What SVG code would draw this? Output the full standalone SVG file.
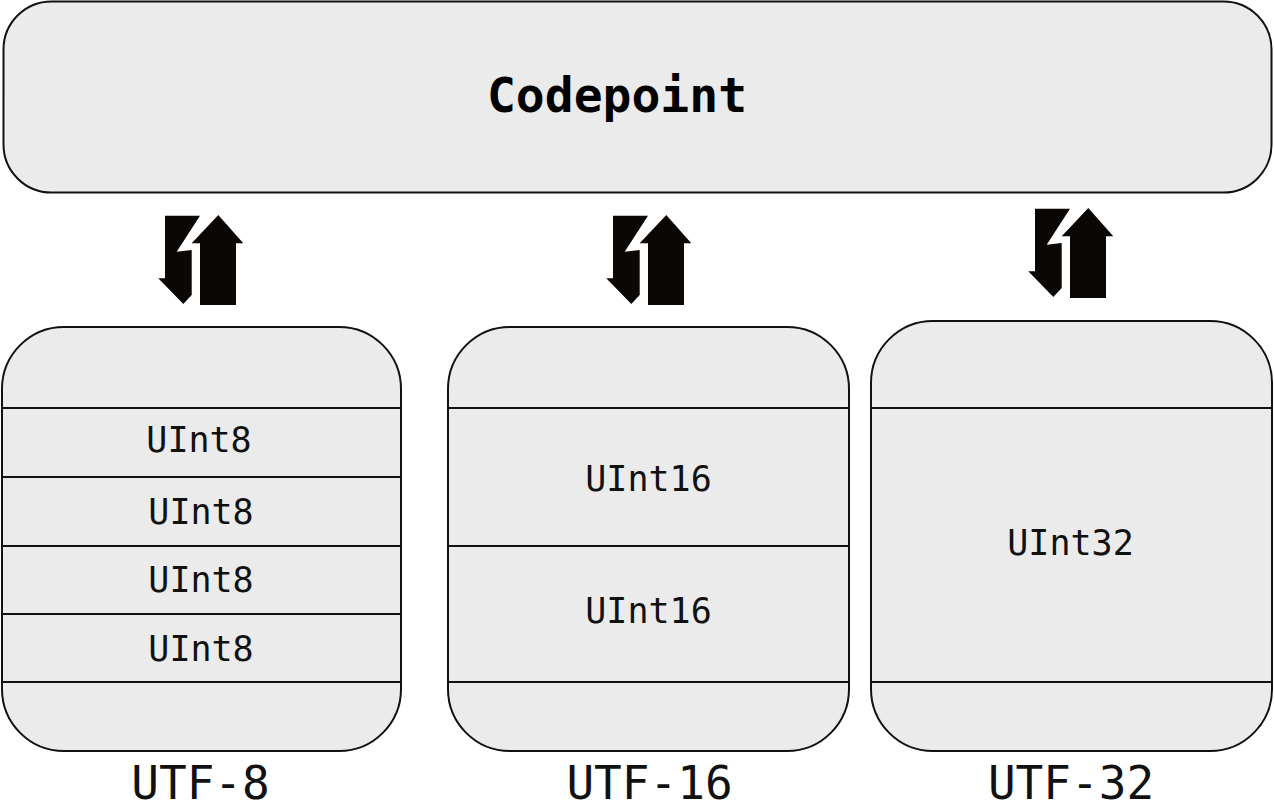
<svg xmlns="http://www.w3.org/2000/svg" xmlns:xlink="http://www.w3.org/1999/xlink" width="1274" height="810" viewBox="0 0 1274 810">
<style>
.box{fill:#ebebeb;stroke:#111;stroke-width:2}
.sep{stroke:#111;stroke-width:2}
.title{font-family:"DejaVu Sans Mono","Liberation Mono",monospace;font-weight:bold;font-size:48px;fill:#000;text-anchor:middle}
.cell{font-family:"DejaVu Sans Mono","Liberation Mono",monospace;font-size:35px;fill:#111;text-anchor:middle}
.label{font-family:"DejaVu Sans Mono","Liberation Mono",monospace;font-size:46px;fill:#111;text-anchor:middle}
.arr{fill:#0a0705}
</style>
<defs>
<g id="swap">
<polygon class="arr" points="165,215.7 200,215.7 176.7,251.7 191.7,250 191.7,295 183.3,304 158.3,278.3 165,278.3"/>
<polygon class="arr" points="218.3,215 243.3,243.3 236,243.3 236,305 200,305 200,243.3 191.7,243.3"/>
</g>
</defs>
<g id="connectors">
<use xlink:href="#swap" href="#swap"/>
<use xlink:href="#swap" href="#swap" transform="translate(448,0)"/>
<use xlink:href="#swap" href="#swap" transform="translate(870,-7)"/>
</g>
<g id="codepoint">
<rect class="box" x="3.5" y="1.5" width="1268" height="191" rx="48" ry="48"/>
<text class="title" x="617" y="112">Codepoint</text>
</g>
<g id="utf8">
<rect class="box" x="2" y="327" width="399" height="424" rx="62" ry="62"/>
<line class="sep" x1="2" y1="408" x2="401" y2="408"/>
<line class="sep" x1="2" y1="477" x2="401" y2="477"/>
<line class="sep" x1="2" y1="546" x2="401" y2="546"/>
<line class="sep" x1="2" y1="614" x2="401" y2="614"/>
<line class="sep" x1="2" y1="682" x2="401" y2="682"/>
<text class="cell" x="199" y="452">UInt8</text>
<text class="cell" x="201" y="524">UInt8</text>
<text class="cell" x="201" y="592">UInt8</text>
<text class="cell" x="201" y="661">UInt8</text>
<text class="label" x="200.5" y="799">UTF-8</text>
</g>
<g id="utf16">
<rect class="box" x="448" y="327" width="401" height="424" rx="62" ry="62"/>
<line class="sep" x1="448" y1="408" x2="849" y2="408"/>
<line class="sep" x1="448" y1="546" x2="849" y2="546"/>
<line class="sep" x1="448" y1="682" x2="849" y2="682"/>
<text class="cell" x="648.5" y="491">UInt16</text>
<text class="cell" x="648.5" y="623">UInt16</text>
<text class="label" x="649.5" y="799">UTF-16</text>
</g>
<g id="utf32">
<rect class="box" x="871" y="321" width="401" height="430" rx="62" ry="62"/>
<line class="sep" x1="871" y1="408" x2="1272" y2="408"/>
<line class="sep" x1="871" y1="682" x2="1272" y2="682"/>
<text class="cell" x="1070.5" y="555">UInt32</text>
<text class="label" x="1071" y="799">UTF-32</text>
</g>
</svg>
